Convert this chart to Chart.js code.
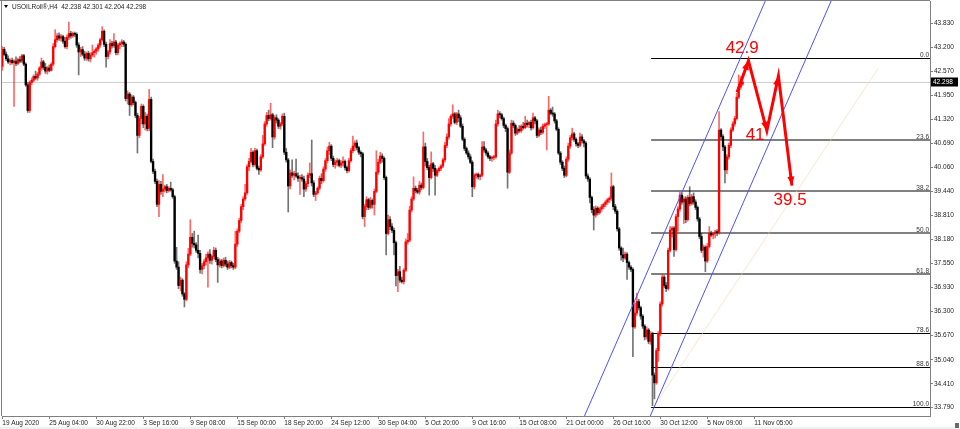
<!DOCTYPE html>
<html>
<head>
<meta charset="utf-8">
<script src="https://cdn.jsdelivr.net/npm/chart.js@4.4.0/dist/chart.umd.min.js"></script>
<style>
  html, body { margin: 0; padding: 0; background: #fff; }
  #wrap { width: 960px; height: 429px; position: relative; }
</style>
</head>
<body>
<div id="wrap"><canvas id="chart" width="960" height="429"></canvas></div>
<script>
// USOILRoll, H4 - velas [open, high, low, close]
const augBars = [
  [42.70,43.22,42.60,43.15],[43.15,43.20,42.98,43.02],[43.02,43.08,42.85,42.90],[42.90,42.98,42.78,42.82],
  [42.82,42.90,42.74,42.86],[42.86,42.92,42.76,42.80],[42.80,42.88,41.66,42.84],[42.84,42.95,42.72,42.78],
  [42.78,42.92,42.74,42.88],[42.88,42.96,42.80,42.84],[42.84,43.02,42.80,42.98],[42.98,43.02,42.72,42.76],
  [42.76,42.80,42.18,42.22],[42.22,42.28,41.50,41.55],[41.55,42.32,41.50,42.28],[42.28,42.40,42.22,42.34],
  [42.34,42.48,42.30,42.44],[42.44,42.58,42.36,42.40],[42.40,42.55,42.34,42.50],[42.50,42.70,42.46,42.66],
  [42.66,42.92,42.60,42.82],[42.82,42.86,42.62,42.68],[42.68,42.78,42.52,42.58],[42.58,42.70,42.50,42.66],
  [42.66,42.74,42.56,42.60],[42.60,42.80,42.58,42.76],[42.76,43.30,42.72,43.22],[43.22,43.66,43.18,43.40],
  [43.40,43.56,43.34,43.50],[43.50,43.58,43.38,43.44],[43.44,43.54,43.36,43.48],[43.48,43.52,43.30,43.36],
  [43.36,43.46,43.18,43.22],[43.22,43.52,43.16,43.46],[43.46,43.86,43.40,43.56],[43.56,43.62,43.44,43.50],
  [43.50,43.60,43.46,43.56],[43.56,43.60,43.48,43.54],[43.54,43.58,43.20,43.26],[43.26,43.32,42.48,43.08],
  [43.08,43.20,42.96,43.14],[43.14,43.22,42.98,43.02],[43.02,43.10,42.86,42.92],[42.92,43.08,42.86,43.04],
  [43.04,43.10,42.84,42.90],[42.90,43.06,42.82,43.00],[43.00,43.26,42.96,43.06],[43.06,43.14,42.94,43.10],
  [43.10,43.20,43.02,43.16],[43.16,43.30,43.10,43.26],[43.26,43.44,43.20,43.40],[43.40,43.74,43.36,43.62],
  [43.62,43.66,43.22,43.28],[43.28,43.34,42.68,42.96],[42.96,43.12,42.90,43.08]
];
const sepBars = [
  [43.08,43.40,43.02,43.30],[43.30,43.36,43.18,43.24],[43.24,43.56,43.20,43.34],[43.34,43.38,43.00,43.06],
  [43.06,43.30,43.00,43.26],[43.26,43.34,43.16,43.30],[43.30,43.40,43.22,43.34],[43.34,43.38,43.22,43.28],
  [43.28,43.32,41.80,41.86],[41.86,42.06,41.72,41.98],[41.98,42.02,41.42,41.70],[41.70,41.96,41.66,41.90],
  [41.90,41.94,41.70,41.76],[41.76,41.80,41.36,41.42],[41.42,41.48,40.44,40.90],[40.90,41.40,40.84,41.34],
  [41.34,41.72,41.20,41.66],[41.66,41.70,41.10,41.20],[41.20,41.50,41.04,41.40],[41.40,41.46,41.02,41.08],
  [41.08,42.10,41.02,41.84],[41.84,41.90,40.18,40.22],[40.22,40.28,39.90,39.96],[39.96,40.02,39.64,39.70],
  [39.70,39.76,39.04,39.10],[39.10,39.72,38.78,39.62],[39.62,39.70,39.36,39.44],[39.44,39.88,39.30,39.50],
  [39.50,39.60,39.42,39.56],[39.56,39.62,39.40,39.46],[39.46,39.56,39.42,39.52],[39.52,39.68,39.44,39.48],
  [39.48,39.52,39.26,39.30],[39.30,39.34,37.56,37.62],[37.62,37.98,37.40,37.46],[37.46,37.60,36.90,36.98],
  [36.98,37.20,36.84,37.12],[37.12,37.16,36.70,36.76],[36.76,36.80,36.42,36.62],[36.62,37.60,36.58,37.52],
  [37.52,37.95,37.45,37.80],[37.80,38.70,37.76,38.24],[38.24,38.34,37.98,38.08],[38.08,38.40,37.96,38.04],
  [38.04,38.10,37.84,37.90],[37.90,38.30,37.70,37.82],[37.82,37.90,37.30,37.40],[37.40,37.56,37.28,37.50],
  [37.50,37.66,37.42,37.60],[37.60,37.80,37.52,37.70],[37.70,37.86,36.94,37.80],[37.80,37.92,37.56,37.64],
  [37.64,37.78,37.54,37.74],[37.74,37.98,37.68,37.90],[37.90,37.96,37.60,37.66],[37.66,37.72,37.06,37.52],
  [37.52,37.68,37.46,37.62],[37.62,37.66,37.44,37.50],[37.50,37.70,37.46,37.64],[37.64,37.72,37.48,37.54],
  [37.54,37.62,37.40,37.46],[37.46,37.64,37.42,37.58],[37.58,37.62,37.44,37.50],[37.50,37.56,37.40,37.46],
  [37.46,38.40,37.42,38.06],[38.06,38.46,38.00,38.40],[38.40,38.74,38.36,38.68],[38.68,39.10,38.62,39.04],
  [39.04,39.30,38.96,39.24],[39.24,39.62,39.20,39.40],[39.40,40.14,39.36,40.08],[40.08,40.30,39.98,40.22],
  [40.22,40.56,40.18,40.46],[40.46,40.50,40.08,40.14],[40.14,40.56,40.10,40.50],[40.50,40.54,40.00,40.04],
  [40.04,40.10,39.88,40.00],[40.00,40.40,39.96,40.34],[40.34,40.90,40.30,40.68],[40.68,41.26,40.64,41.20],
  [41.20,41.50,41.14,41.42],[41.42,41.56,41.28,41.34],[41.34,41.74,41.30,41.44],[41.44,41.48,40.58,40.86],
  [40.86,41.42,40.80,41.36],[41.36,41.44,41.22,41.30],[41.30,41.34,41.08,41.14],[41.14,41.24,41.06,41.20],
  [41.20,41.46,41.16,41.40],[41.40,41.48,40.40,40.46],[40.46,40.56,40.20,40.26],[40.26,40.30,38.90,39.58],
  [39.58,40.00,39.50,39.92],[39.92,40.26,39.80,39.86],[39.86,39.96,39.74,39.90],[39.90,40.28,39.80,39.84],
  [39.84,39.92,39.70,39.78],[39.78,39.86,39.36,39.80],[39.80,39.88,39.70,39.76],[39.76,39.84,39.30,39.50],
  [39.50,39.70,39.44,39.64],[39.64,39.92,39.56,39.86],[39.86,40.18,39.80,39.90],[39.90,40.78,39.58,39.66],
  [39.66,39.72,39.30,39.36],[39.36,39.44,39.20,39.40],[39.40,39.56,39.36,39.52],[39.52,39.84,39.48,39.78],
  [39.78,39.90,39.64,39.72],[39.72,40.08,39.68,40.02],[40.02,40.30,39.96,40.24],[40.24,40.60,40.18,40.50],
  [40.50,40.72,40.40,40.62],[40.62,40.66,40.24,40.30],[40.30,40.36,40.08,40.14],[40.14,40.26,40.04,40.20],
  [40.20,40.30,40.10,40.24],[40.24,40.28,40.08,40.12],[40.12,40.24,40.06,40.18],[40.18,40.34,40.10,40.22],
  [40.22,40.26,40.00,40.06],[40.06,40.10,39.92,39.98],[39.98,40.30,39.94,40.24],[40.24,40.56,40.20,40.50],
  [40.50,40.88,40.44,40.62],[40.62,40.76,40.50,40.70],[40.70,40.78,40.52,40.58],[40.58,40.62,40.40,40.46],
  [40.46,40.50,40.34,40.42],[40.42,40.46,38.72,38.78],[38.78,39.10,38.52,39.04],[39.04,39.30,38.96,39.22],
  [39.22,39.26,38.96,39.02],[39.02,39.28,38.98,39.20],[39.20,39.24,39.00,39.10],[39.10,39.50,38.82,39.44],
  [39.44,40.50,39.40,39.94],[39.94,40.28,39.88,40.20],[40.20,40.46,40.16,40.36],[40.36,40.42,40.20,40.30],
  [40.30,40.34,39.74,39.80],[39.80,39.84,37.78,38.34]
];
const octBars = [
  [38.34,38.82,38.30,38.70],[38.70,38.78,38.44,38.52],[38.52,38.60,38.36,38.42],[38.42,38.48,37.78,38.10],
  [38.10,38.14,36.97,37.24],[37.24,37.40,36.82,37.34],[37.34,37.48,37.06,37.12],[37.12,37.20,37.04,37.08],
  [37.08,37.42,37.02,37.38],[37.38,38.20,37.34,38.12],[38.12,38.34,38.06,38.16],[38.16,39.05,38.12,38.95],
  [38.95,39.30,38.90,39.24],[39.24,39.82,39.20,39.52],[39.52,39.58,39.40,39.46],[39.46,39.52,39.38,39.42],
  [39.42,39.70,39.36,39.60],[39.60,39.66,39.48,39.54],[39.54,40.99,39.50,40.60],[40.60,40.70,40.10,40.22],
  [40.22,40.30,40.00,40.06],[40.06,40.12,39.34,39.80],[39.80,40.47,39.76,40.16],[40.16,40.20,39.96,40.04],
  [40.04,40.12,39.34,39.86],[39.86,40.02,39.82,39.98],[39.98,40.08,39.94,40.04],[40.04,40.14,39.98,40.10],
  [40.10,40.30,40.06,40.26],[40.26,40.72,40.20,40.64],[40.64,40.94,40.58,40.86],[40.86,41.34,40.80,41.20],
  [41.20,41.44,41.14,41.40],[41.40,41.70,41.34,41.46],[41.46,41.50,41.20,41.24],[41.24,41.50,41.18,41.46],
  [41.46,41.56,41.26,41.36],[41.36,41.42,41.10,41.14],[41.14,41.20,40.76,40.80],[40.80,40.84,40.50,40.56],
  [40.56,40.60,40.40,40.44],[40.44,40.50,40.28,40.34],[40.34,40.40,40.16,40.20],[40.20,40.24,39.30,39.56],
  [39.56,39.90,39.50,39.86],[39.86,39.92,39.78,39.88],[39.88,39.92,39.76,39.82],[39.82,39.90,39.74,39.86],
  [39.86,40.74,39.82,40.60],[40.60,40.74,40.46,40.52],[40.52,40.56,40.38,40.44],[40.44,40.48,40.30,40.34],
  [40.34,40.38,40.24,40.30],[40.30,40.36,40.22,40.32],[40.32,40.38,40.26,40.34],[40.34,41.30,40.30,41.20],
  [41.20,41.56,41.14,41.46],[41.46,41.52,41.36,41.44],[41.44,41.48,41.30,41.34],[41.34,41.38,41.10,41.16],
  [41.16,41.20,41.00,41.08],[41.08,41.12,39.52,39.94],[39.94,40.52,39.90,40.44],[40.44,41.30,40.40,41.22],
  [41.22,41.28,41.10,41.16],[41.16,41.20,40.90,40.96],[40.96,41.10,40.92,41.06],[41.06,41.16,40.98,41.02],
  [41.02,41.18,40.98,41.14],[41.14,41.24,41.06,41.10],[41.10,41.40,41.08,41.22],[41.22,41.30,41.12,41.18],
  [41.18,41.26,41.10,41.24],[41.24,41.30,41.04,41.10],[41.10,41.48,41.06,41.36],[41.36,41.40,41.20,41.28],
  [41.28,41.32,40.84,40.90],[40.90,41.10,40.86,41.04],[41.04,41.12,40.92,40.98],[40.98,41.20,40.94,41.14],
  [41.14,41.22,41.08,41.18],[41.18,41.24,40.52,41.20],[41.20,41.92,41.16,41.56],[41.56,41.60,41.44,41.48],
  [41.48,41.64,41.40,41.46],[41.46,41.50,41.22,41.28],[41.28,41.32,41.02,41.06],[41.06,41.10,40.40,40.44],
  [40.44,40.48,40.14,40.20],[40.20,40.24,39.98,40.04],[40.04,40.10,39.80,39.86],[39.86,40.34,39.82,40.28],
  [40.28,40.70,40.22,40.62],[40.62,40.90,40.56,40.84],[40.84,41.09,40.78,40.94],[40.94,40.98,40.74,40.80],
  [40.80,40.84,40.62,40.68],[40.68,40.72,40.58,40.64],[40.64,40.96,40.60,40.86],[40.86,40.92,40.70,40.76],
  [40.76,40.80,40.60,40.70],[40.70,40.74,39.78,39.84],[39.84,39.90,39.70,39.76],[39.76,39.80,39.14,39.28],
  [39.28,39.32,38.88,38.96],[38.96,39.04,38.43,38.82],[38.82,39.06,38.76,39.00],[39.00,39.04,38.82,38.88],
  [38.88,39.02,38.84,38.98],[38.98,39.10,38.92,39.04],[39.04,39.14,38.98,39.10],[39.10,39.20,39.04,39.16],
  [39.16,39.26,39.10,39.22],[39.22,39.30,39.14,39.26],[39.26,39.92,39.20,39.56],[39.56,39.60,38.96,39.04],
  [39.04,39.10,38.86,38.92],[38.92,38.96,38.40,38.46],[38.46,38.50,37.90,37.96],[37.96,38.00,37.64,37.78],
  [37.78,37.96,37.60,37.70],[37.70,37.86,37.66,37.80],[37.80,37.84,37.14,37.58],[37.58,37.62,37.40,37.46],
  [37.46,37.50,37.34,37.40],[37.40,37.44,35.12,35.90],[35.90,36.52,35.86,36.26],[36.26,36.78,36.20,36.56],
  [36.56,36.62,36.34,36.40],[36.40,36.44,36.10,36.18],[36.18,36.22,35.86,35.92],[35.92,35.96,35.56,35.64],
  [35.64,35.90,35.58,35.82],[35.82,35.86,35.46,35.52],[35.52,35.78,35.44,35.70],[35.70,35.76,33.84,34.64],
  [34.64,34.70,34.02,34.44],[34.44,35.34,34.40,35.28],[35.28,35.78,35.00,35.73],[35.73,36.56,35.66,36.50],
  [36.50,37.26,36.44,37.20],[37.20,37.24,36.92,36.98]
];
const novBars = [
  [36.98,37.06,36.82,36.90],[36.90,37.96,36.86,37.90],[37.90,38.52,37.86,38.43],[38.43,38.52,38.24,38.48],
  [38.48,38.52,37.74,37.92],[37.92,38.84,37.88,38.78],[38.78,39.04,38.40,38.98],[38.98,39.42,38.92,39.34],
  [39.34,39.40,39.10,39.16],[39.16,39.30,38.60,39.24],[39.24,39.30,38.62,38.70],[38.70,39.34,38.66,39.28],
  [39.28,39.56,39.06,39.12],[39.12,39.36,39.08,39.30],[39.30,39.40,39.10,39.16],[39.16,39.22,38.96,39.02],
  [39.02,39.06,38.66,38.72],[38.72,38.76,38.20,38.26],[38.26,38.34,37.84,37.90],[37.90,38.04,37.72,37.98],
  [37.98,38.02,37.34,37.62],[37.62,38.08,37.58,38.00],[38.00,38.52,37.96,38.34],[38.34,38.40,38.26,38.30],
  [38.30,38.36,38.20,38.34],[38.34,38.42,38.22,38.38],[38.38,38.44,38.28,38.36],[38.36,41.52,38.32,41.04],
  [41.04,41.08,40.80,40.87],[40.87,40.92,40.50,40.60],[40.60,40.64,39.66,40.00],[40.00,40.40,39.90,40.34],
  [40.34,40.70,40.28,40.64],[40.64,41.10,40.58,41.04],[41.04,41.26,41.00,41.20],[41.20,41.40,41.14,41.34],
  [41.34,42.00,41.30,41.90],[41.90,42.48,41.86,42.16],[42.16,42.44,42.10,42.24],[42.238,42.301,42.204,42.298]
];

// Ejes
const xTickBars = [0, 24, 48, 72, 96, 120, 144, 168, 192, 216, 240, 264, 288, 312, 336, 360, 384];
const xTickLabels = ['19 Aug 2020', '25 Aug 04:00', '30 Aug 22:00', '3 Sep 16:00', '9 Sep 08:00',
  '15 Sep 00:00', '18 Sep 20:00', '24 Sep 12:00', '30 Sep 04:00', '5 Oct 20:00', '9 Oct 16:00',
  '15 Oct 08:00', '21 Oct 00:00', '26 Oct 16:00', '30 Oct 12:00', '5 Nov 09:00', '11 Nov 05:00'];
const priceTicks = [43.830, 43.200, 42.570, 41.950, 41.320, 40.690, 40.060, 39.440, 38.810,
  38.180, 37.550, 36.930, 36.300, 35.670, 35.040, 34.410, 33.790];

// Fibonacci
const fibLevels = [0.0, 23.6, 38.2, 50.0, 61.8, 78.6, 88.6, 100.0];
const fibHigh = 42.92;
const fibLow = 33.80;
const fibStartBar = 331.3;

// Canal y lineas de tendencia (barra, precio)
const channelUpperBars = [290, 400];
const channelUpperPrices = [32.72, 45.63];
const channelLowerBars = [320, 440];
const channelLowerPrices = [32.30, 46.38];
const trendBars = [333.3, 447.2];
const trendPrices = [33.86, 42.65];

// Proyeccion en rojo
const zigBars = [375.2, 381.0, 390.4, 396.3, 403.2];
const zigPrices = [42.03, 42.85, 41.02, 42.45, 39.59];
const noteTexts = ['42.9', '41', '39.5'];
const noteBars = [377.8, 384.4, 402.3];
const notePrices = [43.18, 40.91, 39.21];

const symbolText = 'USOILRoll®,H4';

const bars = [...augBars, ...sepBars, ...octBars, ...novBars];
const opens = bars.map(b => b[0]);
const highs = bars.map(b => b[1]);
const lows = bars.map(b => b[2]);
const closes = bars.map(b => b[3]);
const lastBar = bars[bars.length - 1];

const FONT = 'Liberation Sans, Arial, sans-serif';
const BULL = '#ff0000';
const BEAR = '#000000';

const isBull = i => closes[i] >= opens[i];
const toPoints = (xs, ys) => xs.map((x, k) => ({ x: x, y: ys[k] }));

const mtPlugin = {
  id: 'mtPlugin',
  beforeDraw(chart) {
    const ctx = chart.ctx;
    ctx.save();
    ctx.fillStyle = '#ffffff';
    ctx.fillRect(0, 0, chart.width, chart.height);
    ctx.restore();
  },
  beforeDatasetsDraw(chart) {
    const { ctx, chartArea: a, scales: { x, y } } = chart;
    ctx.save();
    // linea de precio actual
    const py = Math.round(y.getPixelForValue(closes[closes.length - 1])) + 0.5;
    ctx.strokeStyle = '#cfcfcf';
    ctx.lineWidth = 1;
    ctx.beginPath(); ctx.moveTo(a.left, py); ctx.lineTo(a.right, py); ctx.stroke();

    // niveles de Fibonacci
    const fx = x.getPixelForValue(fibStartBar);
    ctx.font = '6.5px ' + FONT;
    ctx.textAlign = 'right';
    ctx.textBaseline = 'alphabetic';
    fibLevels.forEach(lv => {
      const price = fibHigh - (fibHigh - fibLow) * lv / 100;
      const yy = y.getPixelForValue(price);
      const mid = lv > 0 && lv < 70;
      ctx.strokeStyle = mid ? '#808080' : '#000000';
      ctx.lineWidth = mid ? 2 : 1;
      const yl = mid ? Math.round(yy) : Math.round(yy) + 0.5;
      ctx.beginPath(); ctx.moveTo(fx, yl); ctx.lineTo(a.right, yl); ctx.stroke();
      ctx.fillStyle = '#333';
      ctx.fillText(lv.toFixed(1), a.right - 1, Math.round(yy) - 1.5);
    });
    ctx.restore();
  },
  afterDatasetsDraw(chart) {
    const { ctx, chartArea: a, scales: { x, y } } = chart;
    ctx.save();
    // puntas de flecha de la proyeccion
    ctx.fillStyle = BULL;
    for (let k = 1; k < zigBars.length; k++) {
      const x0 = x.getPixelForValue(zigBars[k - 1]), y0 = y.getPixelForValue(zigPrices[k - 1]);
      const x1 = x.getPixelForValue(zigBars[k]), y1 = y.getPixelForValue(zigPrices[k]);
      const ang = Math.atan2(y1 - y0, x1 - x0);
      const len = 9, half = 3.5;
      ctx.beginPath();
      ctx.moveTo(x1, y1);
      ctx.lineTo(x1 - len * Math.cos(ang) + half * Math.sin(ang), y1 - len * Math.sin(ang) - half * Math.cos(ang));
      ctx.lineTo(x1 - len * Math.cos(ang) - half * Math.sin(ang), y1 - len * Math.sin(ang) + half * Math.cos(ang));
      ctx.closePath();
      ctx.fill();
    }
    // textos rojos
    ctx.font = '17px ' + FONT;
    ctx.textAlign = 'center';
    ctx.textBaseline = 'middle';
    noteTexts.forEach((t, k) => {
      ctx.fillText(t, x.getPixelForValue(noteBars[k]), y.getPixelForValue(notePrices[k]));
    });

    // cabecera
    ctx.fillStyle = '#000';
    ctx.beginPath(); ctx.moveTo(4, 5); ctx.lineTo(8, 5); ctx.lineTo(6, 8); ctx.closePath(); ctx.fill();
    ctx.font = '6.5px ' + FONT;
    ctx.textAlign = 'left';
    ctx.textBaseline = 'middle';
    ctx.fillStyle = '#222';
    const ohlcText = lastBar.map(v => v.toFixed(3)).join(' ');
    ctx.fillText(symbolText + '  ' + ohlcText, 12, 7);

    // etiqueta del precio actual
    const last = closes[closes.length - 1];
    const py = Math.round(y.getPixelForValue(last));
    ctx.fillStyle = '#000';
    ctx.fillRect(a.right + 1, py - 4.5, 27, 9);
    ctx.fillStyle = '#fff';
    ctx.fillText(last.toFixed(3), a.right + 3, py + 0.5);

    // marco
    ctx.strokeStyle = '#808080';
    ctx.lineWidth = 1;
    ctx.beginPath();
    ctx.moveTo(1.5, 0); ctx.lineTo(1.5, a.bottom);
    ctx.moveTo(0, 0.5); ctx.lineTo(a.right, 0.5);
    ctx.stroke();
    ctx.fillStyle = '#f0f0f0';
    ctx.fillRect(0, chart.height - 2, chart.width, 2);
    ctx.fillStyle = '#6a6a6a';
    ctx.fillRect(chart.width - 5, chart.height - 6, 4, 5);
    ctx.restore();
  }
};

// quita el relleno automatico que Chart.js reserva para las etiquetas de los extremos
const noPad = s => { s.paddingTop = 0; s.paddingBottom = 0; s.paddingLeft = 0; s.paddingRight = 0; };

Chart.defaults.font.family = FONT;
Chart.defaults.font.size = 6.5;
Chart.defaults.color = '#222';

new Chart(document.getElementById('chart').getContext('2d'), {
  type: 'bar',
  data: {
    datasets: [
      {
        type: 'line', label: 'Proyeccion', order: 0,
        data: toPoints(zigBars, zigPrices),
        borderColor: BULL, borderWidth: 3, pointRadius: 0, tension: 0, fill: false
      },
      {
        type: 'line', label: 'Canal sup', order: 1,
        data: toPoints(channelUpperBars, channelUpperPrices),
        borderColor: '#5050ff', borderWidth: 1, pointRadius: 0, fill: false
      },
      {
        type: 'line', label: 'Canal inf', order: 1,
        data: toPoints(channelLowerBars, channelLowerPrices),
        borderColor: '#5050ff', borderWidth: 1, pointRadius: 0, fill: false
      },
      {
        type: 'line', label: 'Tendencia', order: 2,
        data: toPoints(trendBars, trendPrices),
        borderColor: 'rgba(248,210,165,0.55)', borderWidth: 1, pointRadius: 0, fill: false
      },
      {
        label: 'Cuerpo', order: 3, grouped: false,
        data: bars.map((b, i) => ({ x: i, y: [b[0], b[3]] })),
        backgroundColor: ctx => isBull(ctx.dataIndex) ? BULL : BEAR,
        barThickness: 1.7, borderWidth: 0, minBarLength: 1
      },
      {
        label: 'Mecha', order: 4, grouped: false,
        data: bars.map((b, i) => ({ x: i, y: [lows[i], highs[i]] })),
        backgroundColor: ctx => isBull(ctx.dataIndex) ? 'rgba(255,0,0,0.6)' : 'rgba(0,0,0,0.55)',
        barThickness: 1, borderWidth: 0
      }
    ]
  },
  options: {
    responsive: false,
    animation: false,
    events: [],
    layout: { padding: { left: 2, top: 1, right: 0, bottom: 0 } },
    plugins: { legend: { display: false }, tooltip: { enabled: false } },
    scales: {
      x: {
        type: 'linear',
        min: -0.15,
        max: 473.7,
        offset: false,
        grid: { display: true, drawOnChartArea: false, drawTicks: true, tickLength: 3, color: '#808080', offset: false },
        border: { display: true, color: '#808080' },
        afterBuildTicks: s => { s.ticks = xTickBars.map(v => ({ value: v })); },
        afterFit: s => { s.height = 13; noPad(s); },
        ticks: {
          autoSkip: false, maxRotation: 0, minRotation: 0, align: 'start', padding: 0,
          callback: v => { const k = xTickBars.indexOf(v); return k >= 0 ? xTickLabels[k] : ''; }
        }
      },
      y: {
        type: 'linear',
        position: 'right',
        min: 33.573,
        max: 44.41,
        grid: { display: true, drawOnChartArea: false, drawTicks: true, tickLength: 3, color: '#808080' },
        border: { display: true, color: '#808080' },
        afterBuildTicks: s => { s.ticks = priceTicks.map(v => ({ value: v })); },
        afterFit: s => { s.width = 30; noPad(s); },
        ticks: { autoSkip: false, padding: 1, callback: v => v.toFixed(3) }
      }
    }
  },
  plugins: [mtPlugin]
});
</script>
</body>
</html>
